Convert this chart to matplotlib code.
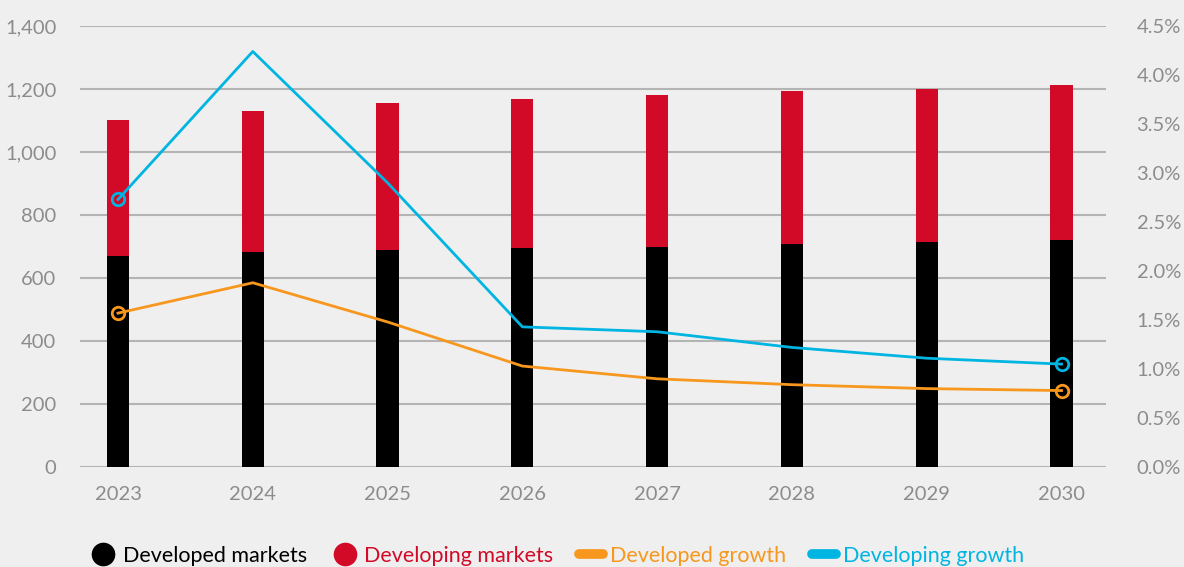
import numpy as np
import matplotlib.pyplot as plt
from matplotlib.lines import Line2D
from matplotlib.ticker import FuncFormatter

# Data
years = ['2023', '2024', '2025', '2026', '2027', '2028', '2029', '2030']
developed = [670, 683, 689, 695, 700, 708, 714, 721]
developing_total = [1101, 1130, 1156, 1168, 1181, 1194, 1200, 1213]
developed_growth = [1.57, 1.88, 1.48, 1.03, 0.90, 0.84, 0.80, 0.78]
developing_growth = [2.73, 4.24, 2.90, 1.43, 1.38, 1.22, 1.11, 1.05]

developing = [t - d for t, d in zip(developing_total, developed)]

bg = '#efefef'
black = '#000000'
red = '#d20a28'
orange = '#f7971d'
blue = '#00b5e2'
grey_txt = '#8c8c8c'
grid_c = '#b4b4b4'

plt.rcParams['font.family'] = ['Lato', 'DejaVu Sans']

fig = plt.figure(figsize=(11.84, 5.67), dpi=100, facecolor=bg)
ax = fig.add_axes([80/1184, 1 - 467/567, (1106-80)/1184, (467-26)/567])
ax.set_facecolor(bg)

x = np.arange(len(years))
w = 0.165
ax.bar(x, developed, w, color=black, zorder=2)
ax.bar(x, developing, w, bottom=developed, color=red, zorder=2)

ax.set_ylim(0, 1400)
ax.set_yticks(np.arange(0, 1401, 200))
ax.yaxis.set_major_formatter(FuncFormatter(lambda v, p: f'{int(v):,}'))
ax.set_xlim(-0.282, 7.33)
ax.set_xticks(x)
ax.set_xticklabels(years)
ax.grid(axis='y', color=grid_c, lw=1.5, zorder=0)
ax.set_axisbelow(True)
for s in ax.spines.values():
    s.set_visible(False)
ax.tick_params(length=0, labelsize=14.5, labelcolor=grey_txt)
ax.tick_params(axis='y', pad=17)
ax.tick_params(axis='x', pad=14)

ax2 = ax.twinx()
ax2.set_ylim(0, 4.5)
ax2.set_yticks(np.arange(0, 4.51, 0.5))
ax2.yaxis.set_major_formatter(FuncFormatter(lambda v, p: f'{v:.1f}%'))
for s in ax2.spines.values():
    s.set_visible(False)
ax2.tick_params(length=0, labelsize=14.5, labelcolor=grey_txt, pad=22)

# growth lines, hollow circles on first and last point only
ax2.plot(x, developed_growth, color=orange, lw=2, marker='o', markevery=[0, 7],
         ms=9, mfc='none', mec=orange, mew=2, zorder=3)
ax2.plot(x, developing_growth, color=blue, lw=2, marker='o', markevery=[0, 7],
         ms=9, mfc='none', mec=blue, mew=2, zorder=3)

handles = [
    Line2D([], [], ls='none', marker='o', ms=16, color=black),
    Line2D([], [], ls='none', marker='o', ms=16, color=red),
    Line2D([], [], color=orange, lw=7, solid_capstyle='round'),
    Line2D([], [], color=blue, lw=7, solid_capstyle='round'),
]
labels = ['Developed markets', 'Developing markets', 'Developed growth', 'Developing growth']
leg = fig.legend(handles, labels, loc='center', bbox_to_anchor=(558/1184, 1 - 556/567),
                 ncol=4, frameon=False, fontsize=15.5, handlelength=1.1,
                 handletextpad=0.35, columnspacing=1.2,
                 labelcolor=[black, red, orange, blue])

fig.savefig('out.png', dpi=100, facecolor=bg)
